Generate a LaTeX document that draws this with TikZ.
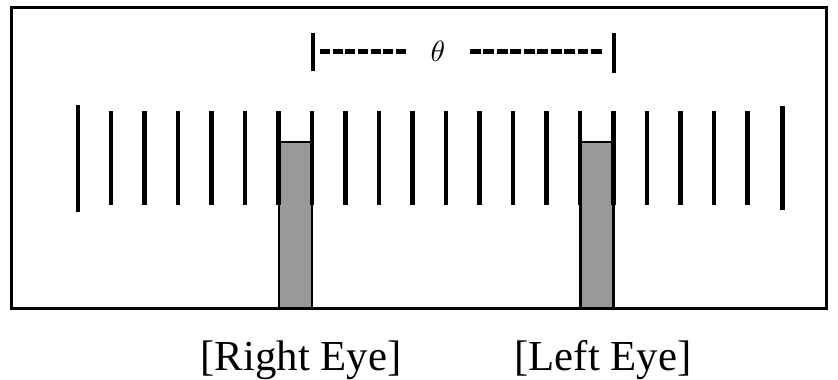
\documentclass[tikz,border=0pt]{standalone}
\usepackage{fontspec}
\setmainfont{Liberation Serif}
\usetikzlibrary{positioning}

\begin{document}
\begin{tikzpicture}[x=0.03cm, y=-0.03cm,
    bar/.style={line width=3.9pt},
    eyebox/.style={draw, line width=1.8pt, fill=black!40, inner sep=0pt, outer sep=0pt},
    tick/.style={line width=2.6pt},
    dashline/.style={line width=4.2pt},
    eyelabel/.style={font=\fontsize{36.5}{40}\selectfont, inner sep=0pt, anchor=base}]
  \useasboundingbox (0,0) rectangle (838,379);

  % eye windows
  \node[eyebox, minimum width=0.99cm, minimum height=4.995cm] (reye) at (295.5,225.25) {};
  \node[eyebox, minimum width=0.99cm, minimum height=4.995cm] (leye) at (597,225.25) {};

  % grating
  \foreach \i in {1,...,20}
    \draw[bar] ({77.7+33.5*\i},111) -- ++(0,94);
  \draw[bar] (78,105) -- (78,212);
  \draw[bar] (782.5,106) -- (782.5,210);

  \draw[line width=2.6pt] (11.5,7.5) rectangle (826.5,308.5);

  % separation
  \node[inner sep=1pt, scale=2.5] (theta) at (438,51) {$\theta$};
  \coordinate (ltick) at (313,51.5);
  \coordinate (rtick) at (614,51.5);
  \draw[tick] ([yshift=-19.5*0.03cm]ltick) -- ([yshift=19*0.03cm]ltick);
  \draw[tick] ([yshift=-21*0.03cm]rtick) -- ([yshift=19*0.03cm]rtick);
  \draw[dashline, dash pattern=on 8.6pt off 2.2pt] ([xshift=7*0.03cm]ltick) -- ([xshift=94*0.03cm]ltick);
  \draw[dashline, dash pattern=on 9.1pt off 2.4pt] ([xshift=-144*0.03cm]rtick) -- ([xshift=-12*0.03cm]rtick);

  \node[eyelabel] (rlabel) at (301,370) {[Right Eye]};
  \node[eyelabel] (llabel) at (603,370) {[Left Eye]};
\end{tikzpicture}
\end{document}
